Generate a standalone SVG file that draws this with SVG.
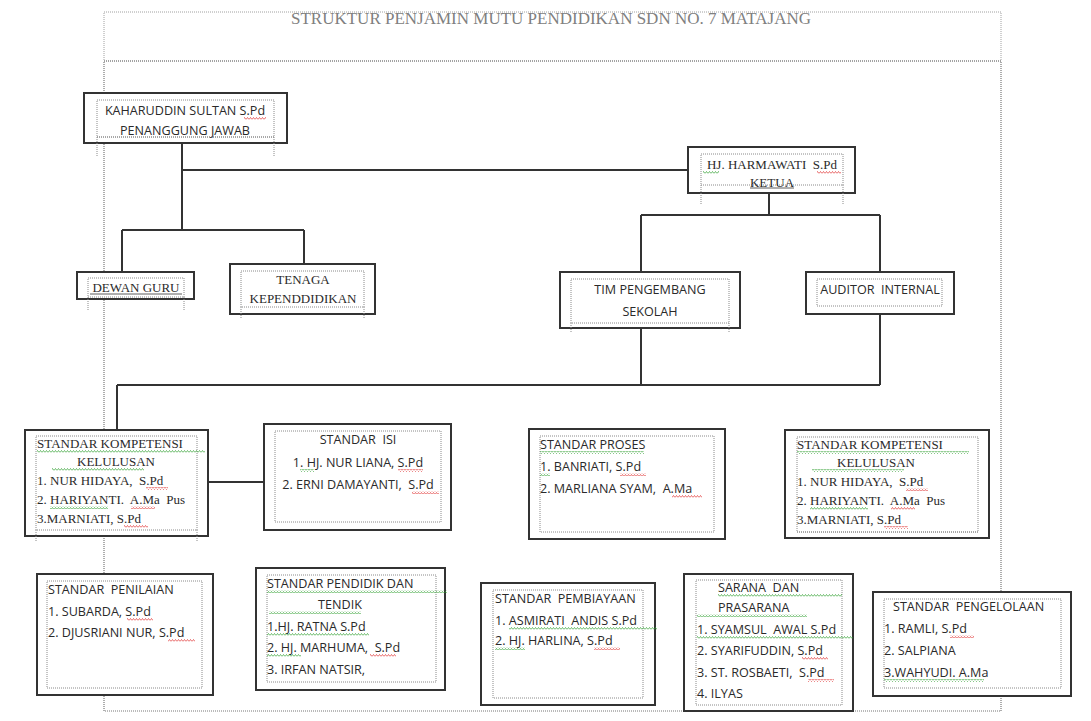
<svg xmlns="http://www.w3.org/2000/svg" width="1091" height="721" viewBox="0 0 1091 721">
<style>
text{white-space:pre}
.box{fill:#fff;stroke:#333;stroke-width:2}
.in{fill:none;stroke:#8a8a8a;stroke-width:1;stroke-dasharray:1 1}
.dv{stroke:#8a8a8a;stroke-width:1;stroke-dasharray:1 1}
.frame{fill:none;stroke:#a0a0a0;stroke-width:1;stroke-dasharray:1 1}
.frame2{fill:none;stroke:#777;stroke-width:1.2;stroke-dasharray:1 1}
.ln{fill:none;stroke:#333;stroke-width:2}
.s{font-family:"Open Sans","Liberation Sans",sans-serif;font-size:12.6px;fill:#2a2a2a}
.r{font-family:"Liberation Serif",serif;font-size:13px;fill:#2a2a2a}
.t{font-family:"Liberation Serif",serif;font-size:17px;fill:#808080}
.c{text-anchor:middle}
.wr{fill:url(#wr)}
.wg{fill:url(#wg)}
</style>
<defs>
<pattern id="wr" width="3" height="3" patternUnits="userSpaceOnUse"><path d="M0,2.5 L1.5,0.5 L3,2.5" fill="none" stroke="#e03030" stroke-width="0.7"/></pattern>
<pattern id="wg" width="3" height="3" patternUnits="userSpaceOnUse"><path d="M0,2.5 L1.5,0.5 L3,2.5" fill="none" stroke="#30a030" stroke-width="0.7"/></pattern>
</defs>

<g id="frame">
<rect class="frame" x="104" y="12" width="897" height="49"/>
<path class="frame2" d="M104,61 H1001 V711 H104 Z"/>
<text class="t c" x="551" y="24">STRUKTUR PENJAMIN MUTU PENDIDIKAN SDN NO. 7 MATAJANG</text>
</g>

<g id="connectors">
<path class="ln" d="M182,143 V230 M182,170 H689 M122,230 H304 M122,230 V272 M304,230 V264"/>
<path class="ln" d="M769,193 V215 M641,215 H880 M641,215 V272 M880,215 V272"/>
<path class="ln" d="M641,328 V385 M880,314 V385 M117,385 H880 M117,385 V430"/>
<path class="ln" d="M208,482 H264"/>
</g>

<g id="kaharuddin">
<rect class="box" x="84" y="93" width="203" height="50" stroke-width="2.6"/>
<rect class="in" x="97" y="100" width="177" height="37"/>
<path class="dv" d="M97,137 V156 M274,137 V156"/>
<text class="s c" x="185" y="115">KAHARUDDIN SULTAN S.Pd</text>
<rect class="wr" x="244" y="117" width="22" height="3"/>
<text class="s c" x="185" y="135">PENANGGUNG JAWAB</text>
<path class="dv" d="M97,137 H274" stroke="#555"/>
</g>

<g id="harmawati">
<rect class="box" x="688" y="147" width="167" height="46"/>
<rect class="in" x="701" y="154" width="142" height="31"/>
<path class="dv" d="M701,185 V205 M843,185 V205"/>
<text class="r c" x="772" y="169">HJ. HARMAWATI  S.Pd</text>
<rect class="wg" x="703" y="171" width="16" height="3"/>
<rect class="wr" x="817" y="171" width="24" height="3"/>
<text class="r c" x="772" y="187">KETUA</text>
<path d="M750,188 H794" stroke="#333" stroke-width="0.8"/>
</g>

<g id="dewan">
<rect class="box" x="77" y="272" width="117" height="27"/>
<rect class="in" x="88" y="278" width="96" height="19"/>
<path class="dv" d="M88,297 V310 M184,297 V310"/>
<text class="r c" x="136" y="292">DEWAN GURU</text>
<path d="M90,294 H182" stroke="#333" stroke-width="0.8"/>
</g>

<g id="tenaga">
<rect class="box" x="230" y="264" width="145" height="50"/>
<rect class="in" x="241" y="271" width="123" height="36"/>
<path class="dv" d="M241,307 V319 M364,307 V319"/>
<text class="r c" x="303" y="284">TENAGA</text>
<text class="r c" x="303" y="303">KEPENDDIDIKAN</text>
</g>

<g id="tim">
<rect class="box" x="560" y="272" width="180" height="56"/>
<rect class="in" x="571" y="279" width="158" height="44"/>
<path class="dv" d="M571,323 V333 M729,323 V333"/>
<text class="s c" x="650" y="294">TIM PENGEMBANG</text>
<text class="s c" x="650" y="316">SEKOLAH</text>
</g>

<g id="auditor">
<rect class="box" x="806" y="272" width="148" height="42"/>
<rect class="in" x="817" y="279" width="125" height="27"/>
<text class="s c" x="880" y="294">AUDITOR  INTERNAL</text>
</g>

<g id="kompetensi-kiri">
<rect class="box" x="25" y="430" width="183" height="106"/>
<rect class="in" x="36" y="436" width="161" height="94"/>
<path class="dv" d="M36,530 V542 M197,530 V542"/>
<text class="r" x="37" y="448">STANDAR KOMPETENSI</text>
<rect class="wg" x="37" y="450" width="168" height="3"/>
<text class="r c" x="116" y="466">KELULUSAN</text>
<rect class="wg" x="52" y="468" width="92" height="3"/>
<text class="r" x="37" y="485">1. NUR HIDAYA,  S.Pd</text>
<rect class="wr" x="146" y="487" width="22" height="3"/>
<text class="r" x="37" y="504">2. HARIYANTI.  A.Ma  Pus</text>
<rect class="wg" x="50" y="506" width="58" height="3"/>
<rect class="wr" x="131" y="506" width="24" height="3"/>
<text class="r" x="37" y="523">3.MARNIATI, S.Pd</text>
<rect class="wr" x="124" y="525" width="24" height="3"/>
</g>

<g id="standar-isi">
<rect class="box" x="264" y="424" width="187" height="106"/>
<rect class="in" x="275" y="431" width="166" height="91"/>
<text class="s c" x="358" y="444">STANDAR  ISI</text>
<text class="s c" x="358" y="467">1. HJ. NUR LIANA, S.Pd</text>
<rect class="wg" x="300" y="469" width="14" height="3"/>
<rect class="wr" x="398" y="469" width="25" height="3"/>
<text class="s c" x="358" y="489">2. ERNI DAMAYANTI,  S.Pd</text>
<rect class="wr" x="412" y="491" width="27" height="3"/>
</g>

<g id="standar-proses">
<rect class="box" x="529" y="429" width="196" height="110"/>
<rect class="in" x="540" y="436" width="174" height="96"/>
<text class="s" x="540" y="449">STANDAR PROSES</text>
<rect class="wg" x="540" y="451" width="104" height="3"/>
<text class="s" x="540" y="471">1. BANRIATI, S.Pd</text>
<rect class="wg" x="540" y="473" width="10" height="3"/>
<rect class="wr" x="620" y="473" width="26" height="3"/>
<text class="s" x="540" y="493">2. MARLIANA SYAM,  A.Ma</text>
<rect class="wr" x="672" y="495" width="30" height="3"/>
</g>

<g id="kompetensi-kanan">
<rect class="box" x="785" y="430" width="204" height="108"/>
<rect class="in" x="797" y="437" width="181" height="95"/>
<path class="dv" d="M797,532 H978"/>
<text class="r" x="797" y="449">STANDAR KOMPETENSI</text>
<rect class="wg" x="797" y="451" width="172" height="3"/>
<text class="r c" x="876" y="467">KELULUSAN</text>
<rect class="wg" x="812" y="469" width="92" height="3"/>
<text class="r" x="797" y="486">1. NUR HIDAYA,  S.Pd</text>
<rect class="wr" x="906" y="488" width="22" height="3"/>
<text class="r" x="797" y="505">2. HARIYANTI.  A.Ma  Pus</text>
<rect class="wg" x="810" y="507" width="58" height="3"/>
<rect class="wr" x="891" y="507" width="24" height="3"/>
<text class="r" x="797" y="524">3.MARNIATI, S.Pd</text>
<rect class="wr" x="884" y="526" width="24" height="3"/>
</g>

<g id="standar-penilaian">
<rect class="box" x="37" y="574" width="176" height="121"/>
<rect class="in" x="47" y="581" width="155" height="107"/>
<text class="s" x="48" y="594">STANDAR  PENILAIAN</text>
<text class="s" x="48" y="616">1. SUBARDA, S.Pd</text>
<rect class="wr" x="127" y="618" width="26" height="3"/>
<text class="s" x="48" y="637">2. DJUSRIANI NUR, S.Pd</text>
<rect class="wr" x="168" y="639" width="27" height="3"/>
</g>

<g id="standar-pendidik">
<rect class="box" x="256" y="568" width="189" height="122"/>
<rect class="in" x="267" y="575" width="169" height="107"/>
<text class="s" x="267" y="588">STANDAR PENDIDIK DAN</text>
<rect class="wg" x="267" y="590" width="180" height="3"/>
<text class="s c" x="340" y="609">TENDIK</text>
<rect class="wg" x="269" y="611" width="92" height="3"/>
<text class="s" x="267" y="631">1.HJ. RATNA S.Pd</text>
<rect class="wg" x="267" y="633" width="102" height="3"/>
<text class="s" x="267" y="652">2. HJ. MARHUMA,  S.Pd</text>
<rect class="wg" x="267" y="654" width="34" height="3"/>
<rect class="wr" x="370" y="654" width="26" height="3"/>
<text class="s" x="267" y="674">3. IRFAN NATSIR,</text>
</g>

<g id="standar-pembiayaan">
<rect class="box" x="481" y="583" width="174" height="122"/>
<rect class="in" x="493" y="590" width="150" height="108"/>
<text class="s" x="495" y="603">STANDAR  PEMBIAYAAN</text>
<text class="s" x="495" y="625">1. ASMIRATI  ANDIS S.Pd</text>
<rect class="wg" x="509" y="627" width="148" height="3"/>
<text class="s" x="495" y="645">2. HJ. HARLINA, S.Pd</text>
<rect class="wg" x="495" y="647" width="30" height="3"/>
<rect class="wr" x="594" y="647" width="26" height="3"/>
</g>

<g id="sarana">
<rect class="box" x="684" y="574" width="169" height="137"/>
<rect class="in" x="696" y="580" width="146" height="125"/>
<text class="s" x="718" y="592">SARANA  DAN</text>
<rect class="wg" x="718" y="594" width="124" height="3"/>
<text class="s" x="718" y="612">PRASARANA</text>
<rect class="wg" x="697" y="614" width="110" height="3"/>
<text class="s" x="697" y="634">1. SYAMSUL  AWAL S.Pd</text>
<rect class="wg" x="697" y="636" width="156" height="3"/>
<text class="s" x="697" y="655">2. SYARIFUDDIN, S.Pd</text>
<rect class="wr" x="802" y="657" width="26" height="3"/>
<text class="s" x="697" y="677">3. ST. ROSBAETI,  S.Pd</text>
<rect class="wr" x="808" y="679" width="26" height="3"/>
<text class="s" x="697" y="698">4. ILYAS</text>
</g>

<g id="standar-pengelolaan">
<rect class="box" x="873" y="592" width="198" height="104"/>
<rect class="in" x="884" y="599" width="177" height="89"/>
<text class="s" x="893" y="611">STANDAR  PENGELOLAAN</text>
<text class="s" x="884" y="633">1. RAMLI, S.Pd</text>
<rect class="wr" x="950" y="635" width="24" height="3"/>
<text class="s" x="884" y="655">2. SALPIANA</text>
<text class="s" x="884" y="677">3.WAHYUDI. A.Ma</text>
<rect class="wg" x="884" y="679" width="100" height="3"/>
</g>
</svg>
